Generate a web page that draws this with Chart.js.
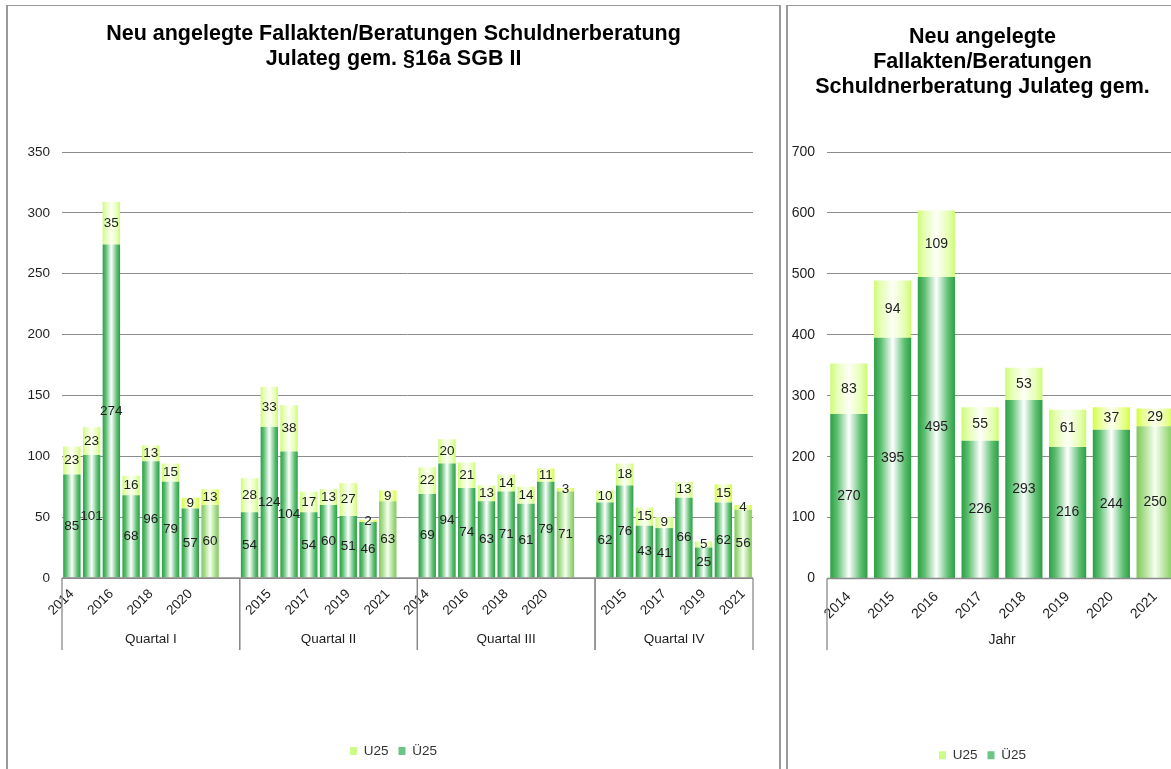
<!DOCTYPE html>
<html><head><meta charset="utf-8">
<script src="https://cdn.jsdelivr.net/npm/chart.js@4.4.1/dist/chart.umd.min.js"></script>
<style>
html,body{margin:0;padding:0;background:#fff;width:1171px;height:769px;overflow:hidden;position:relative}
#leftPanel{position:absolute;left:6px;top:5px;width:775px;height:790px;box-sizing:border-box;border-left:2px solid #9a9a9a;border-top:1px solid #9a9a9a;border-right:2px solid #9a9a9a}
#rightPanel{position:absolute;left:786px;top:5px;width:500px;height:790px;box-sizing:border-box;border-left:2px solid #9a9a9a;border-top:1px solid #9a9a9a}
canvas{position:absolute;left:0;top:0}
</style>
</head><body>
<div id="leftPanel"><canvas id="leftChart" width="771" height="763" style="width:771px;height:763px"></canvas></div>
<div id="rightPanel"><canvas id="rightChart" width="410" height="766" style="width:410px;height:766px"></canvas></div>
<script>
// ---------- data ----------
const years = ['2014','2015','2016','2017','2018','2019','2020','2021'];
const quarterNames = ['Quartal I','Quartal II','Quartal III','Quartal IV'];
const q1Ue25 = [85,101,274,68,96,79,57,60];
const q1U25  = [23,23,35,16,13,15,9,13];
const q2Ue25 = [54,124,104,54,60,51,46,63];
const q2U25  = [28,33,38,17,13,27,2,9];
const q3Ue25 = [69,94,74,63,71,61,79,71];
const q3U25  = [22,20,21,13,14,14,11,3];
const q4Ue25 = [62,76,43,41,66,25,62,56];
const q4U25  = [10,18,15,9,13,5,15,4];
const yearUe25 = [270,395,495,226,293,216,244,250];
const yearU25  = [83,94,109,55,53,61,37,29];
const seriesNames = ['Ü25','U25'];
const groupNameYear = 'Jahr';
const titleLeft = ['Neu angelegte Fallakten/Beratungen Schuldnerberatung','Julateg gem. §16a SGB II'];
const titleRight = ['Neu angelegte','Fallakten/Beratungen','Schuldnerberatung Julateg gem.'];

// ---------- build quarter layout (blank slot between quarters) ----------
const qUe = [q1Ue25,q2Ue25,q3Ue25,q4Ue25];
const qU  = [q1U25,q2U25,q3U25,q4U25];
const leftLabels = [], leftUe = [], leftU = [], leftYearIdx = [], leftGroups = [];
qUe.forEach((arr,q)=>{
  const from = leftLabels.length;
  years.forEach((y,i)=>{ leftLabels.push(y); leftUe.push(qUe[q][i]); leftU.push(qU[q][i]); leftYearIdx.push(i); });
  if (q < qUe.length-1){ leftLabels.push(''); leftUe.push(null); leftU.push(null); leftYearIdx.push(-1); }
  leftGroups.push({label: quarterNames[q], from, to: leftLabels.length});
});

const FONT = "'Liberation Sans', Arial, sans-serif";

// gradient styles
function palette(series, yi){
  if (series === 'ue'){
    if (yi === 7) return ['#7fc85f','#a6dc88','#f6fff0'];
    return ['#2d9f45','#5cbf70','#ffffff'];
  } else {
    if (yi === 6 || yi === 7) return ['#d2ff3c','#e8ff94','#fbfff0'];
    return ['#cdfb72','#e6ffb4','#fdfff7'];
  }
}
function makeBg(series, yearIdxArr, pct){
  return function(ctx){
    const chart = ctx.chart;
    const yi = yearIdxArr ? yearIdxArr[ctx.dataIndex] : ctx.dataIndex;
    const p = palette(series, yi);
    if (ctx.type !== 'data' || !chart.chartArea || !chart.scales.x) return p[1];
    const xs = chart.scales.x;
    const n = chart.data.labels.length;
    const slot = xs.width / n;
    const w = slot * pct;
    const cx = xs.getPixelForValue(ctx.dataIndex);
    const g = chart.ctx.createLinearGradient(cx - w/2, 0, cx + w/2, 0);
    g.addColorStop(0, p[0]);
    g.addColorStop(0.18, p[1]);
    g.addColorStop(0.5, p[2]);
    g.addColorStop(0.82, p[1]);
    g.addColorStop(1, p[0]);
    return g;
  };
}

// ---------- plugins ----------
const valueLabels = {
  id:'valueLabels',
  afterDatasetsDraw(chart, args, opts){
    const ctx = chart.ctx;
    ctx.save();
    ctx.font = opts.size + 'px ' + FONT;
    ctx.fillStyle = '#1e1e1e';
    ctx.textAlign = 'center';
    ctx.textBaseline = 'middle';
    chart.data.datasets.forEach((ds,i)=>{
      const meta = chart.getDatasetMeta(i);
      meta.data.forEach((el,j)=>{
        const v = ds.data[j];
        if (v == null) return;
        ctx.fillText(String(v), el.x, (el.y + el.base)/2);
      });
    });
    ctx.restore();
  }
};
const groupAxis = {
  id:'groupAxis',
  afterDraw(chart, args, opts){
    const xs = chart.scales.x, a = chart.chartArea, ctx = chart.ctx;
    const half = (xs.getPixelForValue(1) - xs.getPixelForValue(0)) / 2;
    ctx.save();
    ctx.strokeStyle = '#8a8a8a';
    ctx.lineWidth = 1.3;
    ctx.beginPath(); ctx.moveTo(a.left, a.bottom); ctx.lineTo(a.right, a.bottom); ctx.stroke();
    ctx.font = opts.size + 'px ' + FONT;
    ctx.fillStyle = '#1e1e1e';
    ctx.textAlign = 'center'; ctx.textBaseline = 'middle';
    opts.groups.forEach(g=>{
      const x0 = xs.getPixelForValue(g.from) - half;
      const x1 = Math.min(xs.getPixelForValue(g.to - 1) + half, a.right);
      ctx.beginPath();
      ctx.moveTo(x0, a.bottom); ctx.lineTo(x0, opts.lineBottom);
      ctx.moveTo(x1, a.bottom); ctx.lineTo(x1, opts.lineBottom);
      ctx.stroke();
      ctx.fillText(g.label, (x0 + x1)/2, opts.labelY);
    });
    ctx.restore();
  }
};

function legendLabels(chart){
  return chart.data.datasets.map((ds,i)=>({
    text: ds.label,
    fillStyle: i === 0 ? '#6cc584' : '#cdfb8a',
    strokeStyle: 'rgba(0,0,0,0)',
    lineWidth: 0,
    hidden: false,
    datasetIndex: i,
    fontColor: '#333'
  }));
}

function makeChart(id, cfg){
  const scales = {
    x:{
      stacked:true,
      grid:{display:false},
      border:{display:false},
      afterFit(s){ s.height = cfg.xHeight; },
      ticks:{autoSkip:false, minRotation:45, maxRotation:45, padding:cfg.tickPad,
        color:'#1e1e1e', font:{family:FONT, size:cfg.tickSize},
        callback(v, i){ return (i % cfg.every === 0) ? this.getLabelForValue(v) : ''; }}
    },
    y:{
      stacked:true, min:0, max:cfg.max,
      afterFit(s){ s.width = cfg.yWidth; },
      grid:{color:'#8c8c8c', lineWidth:1, drawTicks:false},
      border:{display:false},
      ticks:{stepSize:cfg.step, padding:12, color:'#1e1e1e', font:{family:FONT, size:cfg.tickSize}}
    }
  };
  if (cfg.rightGap){
    scales.yGap = {
      position:'right', display:true, min:0, max:cfg.max,
      afterFit(s){ s.width = cfg.rightGap; },
      grid:{display:false, drawTicks:false}, border:{display:false}, ticks:{display:false}
    };
  }
  return new Chart(document.getElementById(id), {
    type:'bar',
    data:{
      labels: cfg.labels,
      datasets:[
        {label: seriesNames[0], data: cfg.ue, backgroundColor: makeBg('ue', cfg.yearIdx, cfg.barPct), borderWidth:0, barPercentage: cfg.barPct, categoryPercentage:1},
        {label: seriesNames[1], data: cfg.u, backgroundColor: makeBg('u', cfg.yearIdx, cfg.barPct), borderWidth:0, barPercentage: cfg.barPct, categoryPercentage:1}
      ]
    },
    options:{
      responsive:false, animation:false,
      layout:{padding:{left:cfg.padL, right:cfg.padR, top:0, bottom:cfg.padB}},
      scales,
      plugins:{
        tooltip:{enabled:false},
        title:{display:true, text:cfg.title, color:'#000',
          font:{family:FONT, size:cfg.titleSize, weight:'bold', lineHeight:cfg.titleLH},
          padding:{top:cfg.titleTop, bottom:cfg.titleBottom}},
        legend:{position:'bottom', reverse:true,
          labels:{boxWidth:7, boxHeight:8, padding:10, color:'#333', font:{family:FONT, size:13.5}, generateLabels: legendLabels}},
        valueLabels:{size:cfg.valueSize},
        groupAxis:{groups:cfg.groups, lineBottom:644, labelY:cfg.groupY, size:cfg.tickSize}
      }
    },
    plugins:[valueLabels, groupAxis]
  });
}

makeChart('leftChart', {
  labels:leftLabels, ue:leftUe, u:leftU, yearIdx:leftYearIdx, barPct:0.88,
  padL:0, padR:0, rightGap:26, padB:1.25, xHeight:156.25, yWidth:54, max:350, step:50,
  tickSize:13.5, tickPad:0, valueSize:13.5, title:titleLeft, titleSize:21.5, titleLH:25/21.5,
  titleTop:15.5, titleBottom:80.5, every:2, groups:leftGroups, groupY:633
});
makeChart('rightChart', {
  labels:years, ue:yearUe25, u:yearU25, yearIdx:null, barPct:0.85,
  padL:0, padR:21, padB:0, xHeight:160, yWidth:39, max:700, step:100,
  tickSize:14, tickPad:2, valueSize:14, title:titleRight, titleSize:21.5, titleLH:25/21.5,
  titleTop:18.5, titleBottom:52.5, every:1,
  groups:[{label:groupNameYear, from:0, to:years.length}], groupY:634
});
</script>
</body></html>
